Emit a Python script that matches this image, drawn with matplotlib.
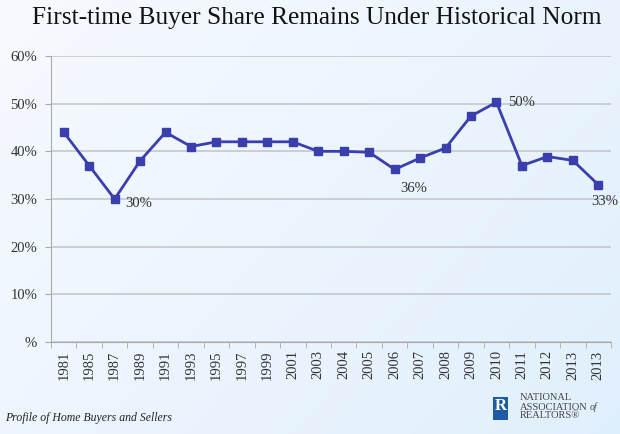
import matplotlib
matplotlib.use("Agg")
import matplotlib.pyplot as plt
import numpy as np
from matplotlib.patches import Rectangle

years = ["1981", "1985", "1987", "1989", "1991", "1993", "1995", "1997", "1999", "2001",
         "2003", "2004", "2005", "2006", "2007", "2008", "2009", "2010", "2011", "2012",
         "2013", "2013"]
share = [44, 37, 30, 38, 44, 41, 42, 42, 42, 42,
         40, 40, 39.8, 36.2, 38.6, 40.7, 47.4, 50.3, 37.0, 38.9, 38.1, 33]
annotations = {2: "30%", 13: "36%", 17: "50%", 21: "33%"}
yticks = [0, 10, 20, 30, 40, 50, 60]
ytick_labels = ["%", "10%", "20%", "30%", "40%", "50%", "60%"]

title = "First-time Buyer Share Remains Under Historical Norm"
footer = "Profile of Home Buyers and Sellers"

plt.rcParams['font.family'] = ['Liberation Serif', 'DejaVu Serif']

W, H = 620, 434
fig = plt.figure(figsize=(W / 100, H / 100), dpi=100)

# background gradient
bg = fig.add_axes([0, 0, 1, 1], zorder=-10)
gx = np.linspace(0, 1, 200)
gy = np.linspace(0, 1, 200)
GX, GY = np.meshgrid(gx, gy)
t = np.clip(0.6 * GX + 0.4 * (1 - GY), 0, 1)
c0 = np.array([0.97, 0.98, 1.0])
c1 = np.array([0.88, 0.94, 0.99])
img = c0[None, None, :] * (1 - t[..., None]) + c1[None, None, :] * t[..., None]
bg.imshow(img, extent=[0, 1, 0, 1], aspect='auto', origin='lower')
bg.set_xlim(0, 1)
bg.set_ylim(0, 1)
bg.axis('off')

ax = fig.add_axes([51 / W, 1 - 342 / H, (611 - 51) / W, (342 - 56) / H])
ax.set_facecolor('none')
x = np.arange(len(years))
ax.plot(x, share, color='#3b3fae', lw=2.0, marker='s', markersize=5.5,
        markerfacecolor='#3b3fae', markeredgecolor='#3b3fae', zorder=3)

offsets = {2: (8, -3, 'left'), 17: (8, 0, 'left'), 13: (14, -14, 'center'), 21: (5, -12, 'center')}
for i, lab in annotations.items():
    dx, dy, ha = offsets[i]
    ax.annotate(lab, (x[i], share[i]), xytext=(dx, dy), textcoords='offset points',
                fontsize=10.5, color='#333333', va='center', ha=ha)

ax.set_xlim(-0.5, len(years) - 0.5)
ax.set_ylim(0, 60)
ax.set_yticks(yticks)
ax.set_yticklabels(ytick_labels, fontsize=10.5, color='#333333')
ax.set_xticks(x)
ax.set_xticklabels(years, rotation=90, fontsize=10.5, color='#333333')
ax.set_xticks(np.arange(-0.5, len(years)), minor=True)
ax.tick_params(axis='x', which='major', length=0, pad=6)
ax.tick_params(axis='x', which='minor', length=4, color='#aaaaaa')
ax.tick_params(axis='y', length=4, color='#aaaaaa', pad=6)
ax.grid(axis='y', color='#c4c8cc', lw=1.2)
ax.set_axisbelow(True)
for s in ['top', 'right']:
    ax.spines[s].set_visible(False)
ax.spines['left'].set_color('#aaaaaa')
ax.spines['bottom'].set_color('#aaaaaa')

fig.text(317 / W, 1 - 18 / H, title, ha='center', va='center', fontsize=18.3, color='#111111')
fig.text(5 / W, 1 - 418 / H, footer, ha='left', va='center', fontsize=8.5,
         style='italic', color='#222222')

# logo
fig.patches.append(Rectangle((493 / W, 1 - 420 / H), 15 / W, 23 / H,
                             transform=fig.transFigure, facecolor='#1f5aa6', edgecolor='none'))
fig.text(500.5 / W, 1 - 406 / H, "R", ha='center', va='center', fontsize=12,
         fontweight='bold', color='white')
fig.text(520 / W, 1 - 398 / H, "NATIONAL", ha='left', va='center', fontsize=7.5, color='#444444')
t_assoc = fig.text(520 / W, 1 - 407 / H, "ASSOCIATION", ha='left', va='center', fontsize=7.5,
                   color='#444444')
bg.annotate("of", xy=(1, 0.5), xycoords=t_assoc, xytext=(1.5, 0), textcoords='offset points',
            ha='left', va='center', fontsize=7, style='italic', color='#444444',
            annotation_clip=False)
fig.text(520 / W, 1 - 416 / H, "REALTORS\u00ae", ha='left', va='center', fontsize=7.5, color='#444444')

fig.savefig("out.png", dpi=100)
